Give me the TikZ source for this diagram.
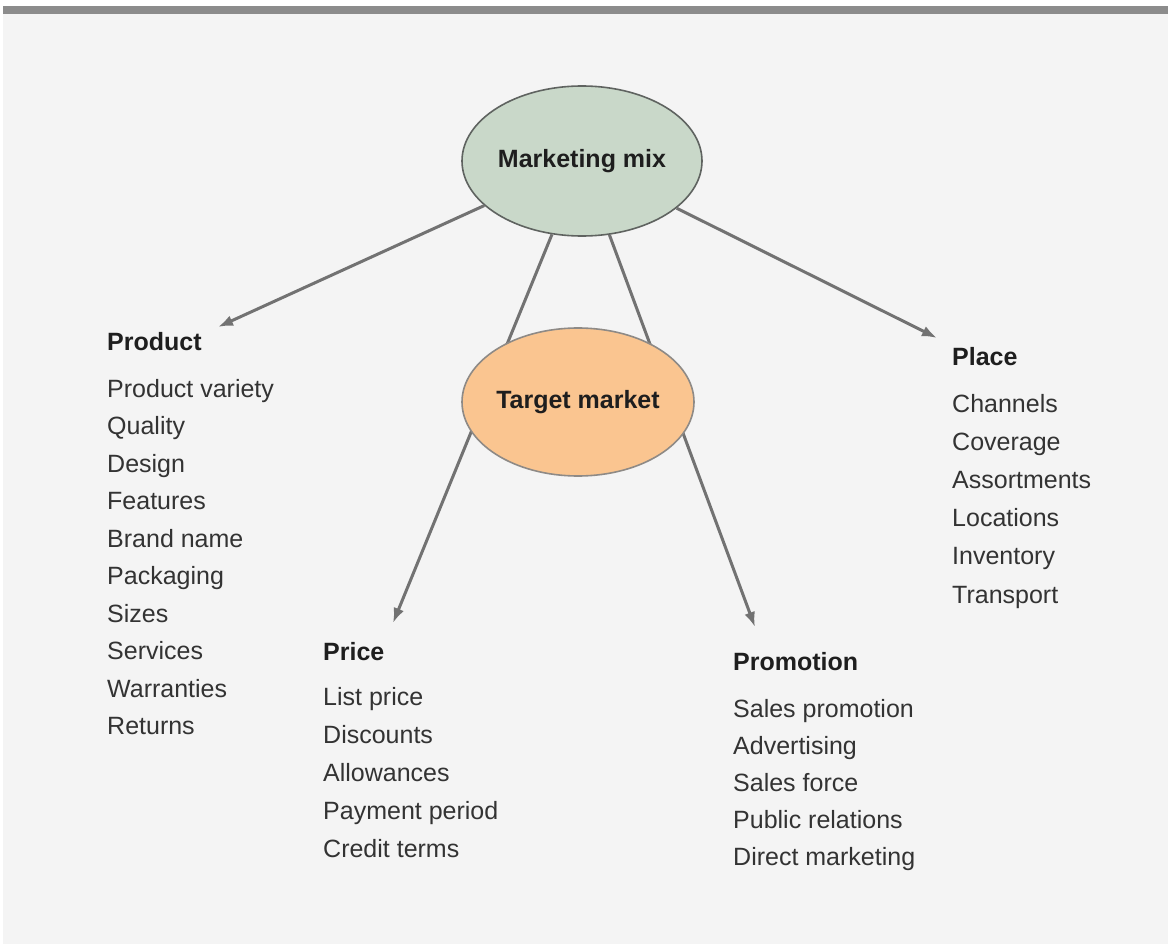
\documentclass[tikz,border=0pt]{standalone}
\usepackage{fontspec}
\setmainfont{Liberation Sans}
\usetikzlibrary{shapes.geometric,arrows.meta}
\definecolor{pagebg}{HTML}{F4F4F4}
\definecolor{barcol}{HTML}{8C8C8C}
\definecolor{mixfill}{HTML}{C9D8C9}
\definecolor{mixdraw}{HTML}{5F6360}
\definecolor{tgtfill}{HTML}{FAC590}
\definecolor{tgtdraw}{HTML}{8E8A86}
\definecolor{linkcol}{HTML}{727272}
\definecolor{headcol}{HTML}{1E1E1E}
\definecolor{itemcol}{HTML}{333333}
\tikzset{
  bubble/.style={ellipse, inner sep=0pt, line width=1.6pt,
    font=\fontsize{25}{30}\selectfont\bfseries, text=headcol},
  heading/.style={anchor=base west, inner sep=0pt,
    font=\fontsize{25}{30}\selectfont\bfseries, text=headcol},
  item/.style={anchor=base west, inner sep=0pt,
    font=\fontsize{25}{30}\selectfont, text=itemcol},
  link/.style={draw=linkcol, line width=3pt,
    -{Latex[length=15pt,width=11pt]}}
}
\begin{document}
\begin{tikzpicture}[x=1pt,y=-1pt]
  % page and top rule
  \fill[white] (0,0) rectangle (1168,947);
  \useasboundingbox (0,0) rectangle (1168,947);
  \fill[pagebg] (3,6) rectangle (1168,944);
  \fill[barcol] (3,6) rectangle (1168,14);

  % central bubble
  \node[bubble, fill=mixfill, draw=mixdraw,
        minimum width=240pt, minimum height=150pt] (mix) at (582,161) {Marketing mix};

  % the four P columns
  \node[heading] (product) at (107,350) {Product};
  \foreach [count=\i] \t in {Product variety, Quality, Design, Features,
      Brand name, Packaging, Sizes, Services, Warranties, Returns}
    \node[item] (product\i) at (107,{397+37.5*(\i-1)}) {\t};

  \node[heading] (price) at (323,660) {Price};
  \foreach [count=\i] \t in {List price, Discounts, Allowances,
      Payment period, Credit terms}
    \node[item] (price\i) at (323,{705+38*(\i-1)}) {\t};

  \node[heading] (promotion) at (733,670) {Promotion};
  \foreach [count=\i] \t in {Sales promotion, Advertising, Sales force,
      Public relations, Direct marketing}
    \node[item] (promotion\i) at (733,{717+37*(\i-1)}) {\t};

  \node[heading] (place) at (952,365) {Place};
  \foreach [count=\i] \t in {Channels, Coverage, Assortments,
      Locations, Inventory, Transport}
    \node[item] (place\i) at (952,{412+38.2*(\i-1)}) {\t};

  % arrow tips beside each heading
  \coordinate (toProduct)   at (218,327);
  \coordinate (toPrice)     at (393,623);
  \coordinate (toPromotion) at (755,627);
  \coordinate (toPlace)     at (937,338);

  \draw[link] (mix) -- (toProduct);
  \draw[link] (mix) -- (toPrice);
  \draw[link] (mix) -- (toPromotion);
  \draw[link] (mix) -- (toPlace);

  % target market sits over the two lower links
  \node[bubble, fill=tgtfill, draw=tgtdraw,
        minimum width=232pt, minimum height=148pt] (target) at (578,402) {Target market};
\end{tikzpicture}
\end{document}
